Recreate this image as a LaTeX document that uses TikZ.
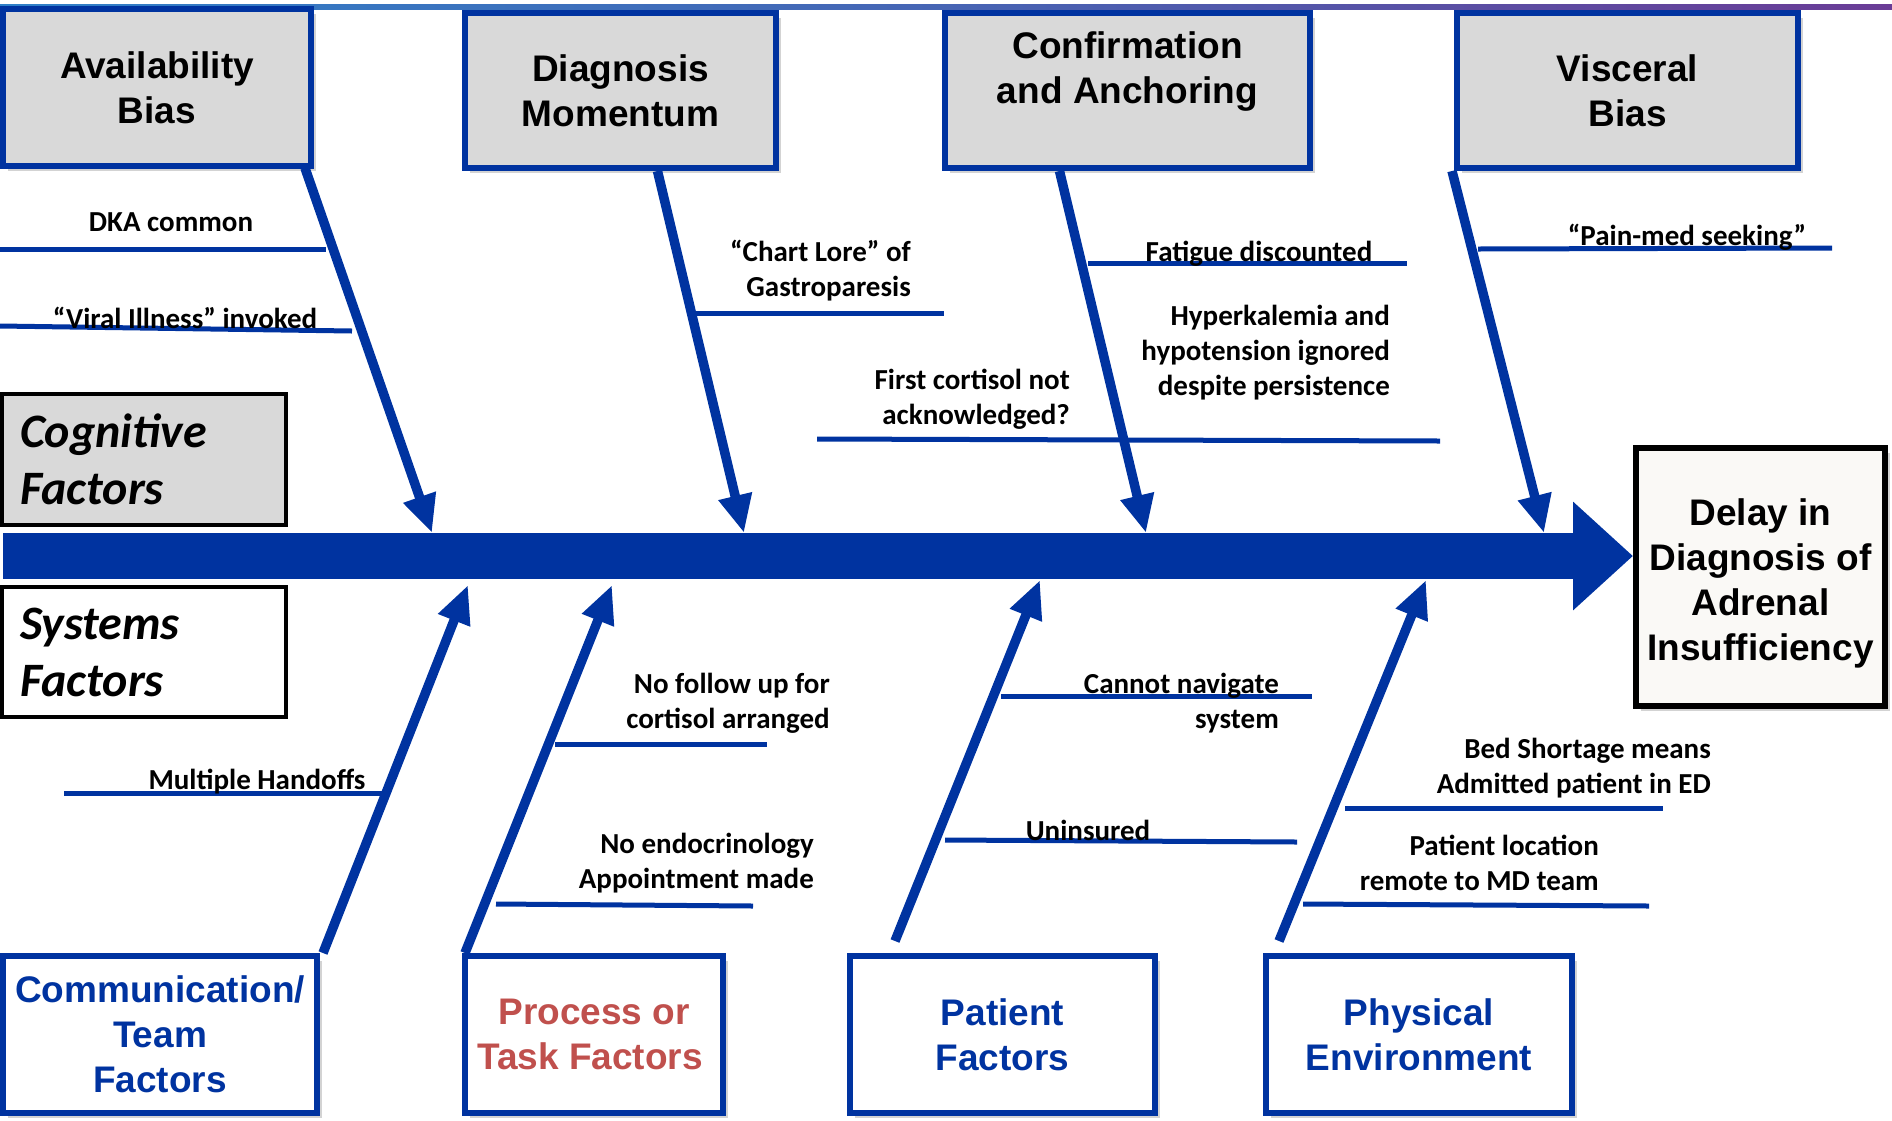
\documentclass[tikz,border=0pt]{standalone}
\usepackage{fontspec}
\setmainfont{Liberation Sans}
\newfontfamily\calibri{Carlito}
\usetikzlibrary{arrows.meta,shadows,calc}
\definecolor{myblue}{HTML}{0033A0}
\definecolor{boxgray}{HTML}{D9D9D9}
\definecolor{taskred}{HTML}{C0504D}
\definecolor{delayfill}{HTML}{FAF9F6}
\definecolor{topblue}{HTML}{2F80C8}
\definecolor{toppurple}{HTML}{6A3C96}
\newcommand\bxfont{\fontsize{37}{45}\selectfont\bfseries}
\newcommand\ribfont{\calibri\bfseries\fontsize{29}{35}\selectfont}
\newcommand\catfont{\calibri\bfseries\itshape\fontsize{48}{57}\selectfont}
\tikzset{
  shad/.style={drop shadow={opacity=0.35,shadow xshift=5pt,shadow yshift=-5pt}},
  topbox/.style={shad,draw=myblue,line width=6pt,fill=boxgray,align=center,font=\bxfont,inner sep=0pt},
  botbox/.style={shad,draw=myblue,line width=6pt,fill=white,align=center,font=\bxfont,inner sep=0pt,text=myblue},
  catbox/.style={draw=black,line width=4pt,align=left,font=\catfont,text width=248pt,inner xsep=18pt,inner ysep=0pt},
  delaybox/.style={shad,draw=black,line width=6pt,fill=delayfill,align=center,font=\bxfont,inner sep=0pt},
  bone/.style={draw=myblue,line width=9.5pt,-{Triangle[length=38pt,width=32pt]}},
  rib/.style={draw=myblue,line width=5pt},
  ribtext/.style={font=\ribfont,inner sep=0pt,yshift=-2.5pt},
}
\begin{document}
\begin{tikzpicture}[x=1pt,y=-1pt]
\useasboundingbox (0,0) rectangle (1892,1120);
\shade[left color=topblue,right color=toppurple,middle color=topblue!60!toppurple] (0,4) rectangle (1892,9);

% top category boxes
\node[topbox,minimum width=308pt,minimum height=157pt] (avail) at (157,87.5) {Availability\\Bias};
\node[topbox,minimum width=311pt,minimum height=155pt] (diag) at (620.5,90.5) {Diagnosis\\Momentum};
\node[topbox,minimum width=365pt,minimum height=155pt] (conf) at (1127.5,90.5) {Confirmation\\and Anchoring\\[-12pt]\strut};
\node[topbox,minimum width=341pt,minimum height=155pt] (visc) at (1627.5,90.5) {Visceral\\Bias};

% left labels
\node[catbox,fill=boxgray,minimum height=131pt] (cog) at (144,459.5) {Cognitive\\Factors};
\node[catbox,fill=white,minimum height=130pt] (sys) at (144,652) {Systems\\Factors};

% effect box
\node[delaybox,minimum width=249pt,minimum height=258pt] (delay) at (1760.5,577) {\rule{0pt}{39pt}Delay in\\Diagnosis of\\Adrenal\\Insufficiency};

% bottom category boxes
\node[botbox,minimum width=314pt,minimum height=157pt] (comm) at (160,1034.5) {Communication/\\Team\\Factors};
\node[botbox,minimum width=258pt,minimum height=157pt,text=taskred] (proc) at (594,1034.5) {Process or\\Task Factors\hspace*{8pt}};
\node[botbox,minimum width=305pt,minimum height=157pt] (pat) at (1002.5,1034.5) {Patient\\Factors};
\node[botbox,minimum width=306pt,minimum height=157pt] (phys) at (1419,1034.5) {Physical\\Environment};

% spine
\coordinate (spst) at (3,556);
\draw[myblue,line width=46pt,-{Triangle[length=60pt,width=105pt]}] (spst) -- (spst -| delay.west);

% bone tips on spine
\coordinate (t1) at (432,533);
\coordinate (t2) at (744,533);
\coordinate (t3) at (1146,533);
\coordinate (t4) at (1544,533);
\coordinate (u1) at (468,585);
\coordinate (u2) at (612,585);
\coordinate (u3) at (1040,580);
\coordinate (u4) at (1426,580);

\draw[bone] ($(avail.south east)+(-9,-1)$) -- (t1);
\draw[bone] ($(diag.south)+(37,0)$) -- (t2);
\draw[bone] ($(conf.south)+(-68,0)$) -- (t3);
\draw[bone] ($(visc.south west)+(-2,0)$) -- (t4);
\draw[bone] ($(comm.north east)+(3,0)$) -- (u1);
\draw[bone] ($(proc.north west)+(3,0)$) -- (u2);
\draw[bone] ($(pat.north west)+(48,-12)$) -- (u3);
\draw[bone] ($(phys.north west)+(16,-12)$) -- (u4);

% ribs
\draw[rib] (0,249) -- (326,249);
\draw[rib] (0,326) -- (352,331);
\draw[rib] (696,313) -- (944,313);
\draw[rib] (1088,263) -- (1407,263);
\draw[rib] (817,439) -- (1440,441);
\draw[rib] (1478,249) -- (1832,248);
\draw[rib] (64,793) -- (382,793);
\draw[rib] (555,744) -- (767,744);
\draw[rib] (496,904) -- (753,906);
\draw[rib] (1001,696) -- (1312,696);
\draw[rib] (945,840) -- (1297,842);
\draw[rib] (1345,808) -- (1663,808);
\draw[rib] (1303,904) -- (1649,906);

% rib labels
\node[ribtext] (l1) at (171,220) {DKA common};
\node[ribtext] (l2) at (185,315) {“Viral Illness” invoked};
\node[ribtext,align=right,anchor=east] (l3) at (911,268.5) {“Chart Lore” of\\Gastroparesis};
\node[ribtext] (l4) at (1259,251) {Fatigue discounted};
\node[ribtext,align=right,anchor=east] (l5) at (1390,350) {Hyperkalemia and\\hypotension ignored\\despite persistence};
\node[ribtext,align=right,anchor=east] (l6) at (1070,396.5) {First cortisol not\\acknowledged?};
\node[ribtext] (l7) at (1687,235) {“Pain-med seeking”};
\node[ribtext] (l8) at (257,779) {Multiple Handoffs};
\node[ribtext,align=right,anchor=east] (l9) at (830,700.5) {No follow up for\\cortisol arranged};
\node[ribtext,align=right,anchor=east] (l10) at (814,860.5) {No endocrinology\\Appointment made};
\node[ribtext,align=right,anchor=east] (l11) at (1279,701) {Cannot navigate\\system};
\node[ribtext] (l12) at (1088,828) {Uninsured};
\node[ribtext,align=right,anchor=east] (l13) at (1711,765.5) {Bed Shortage means\\Admitted patient in ED};
\node[ribtext,align=right,anchor=east] (l14) at (1599,860.5) {Patient location\\remote to MD team};
\end{tikzpicture}
\end{document}
